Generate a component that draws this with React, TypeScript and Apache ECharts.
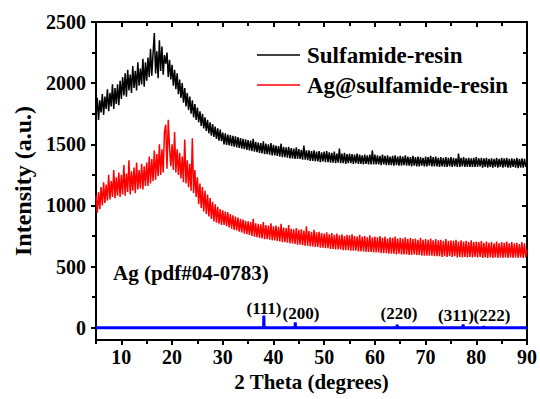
import React, { useEffect, useRef } from "react";
import * as echarts from "echarts";

// 2-theta sampling grid: 5.00 .. 90.00 in 0.25 degree steps
const thetaStart = 5;
const thetaStep = 0.25;

const sulfamideResin: number[] = [
  1730, 1880, 1700, 1860, 1760, 1910, 1740, 1890, 1790, 1950, 1770, 1920, 1810, 1990, 1790, 1960, 1830, 1990, 1820, 2020,
  1870, 2050, 1900, 2080, 1890, 2110, 1940, 2070, 1920, 2140, 1960, 2100, 1940, 2170, 1980, 2120, 1990, 2200, 1970, 2170,
  2020, 2210, 2050, 2280, 2060, 2240, 2410, 2080, 2260, 2040, 2350, 2100, 2300, 2070, 2230, 2160, 2250, 2050, 2190, 2030,
  2150, 1980, 2110, 1950, 2080, 1910, 2030, 1880, 2000, 1840, 1960, 1810, 1920, 1780, 1890, 1750, 1860, 1720, 1830, 1700,
  1800, 1680, 1770, 1650, 1750, 1630, 1720, 1610, 1700, 1590, 1680, 1570, 1665, 1560, 1645, 1545, 1630, 1530, 1620, 1525,
  1595, 1500, 1590, 1495, 1580, 1490, 1575, 1485, 1570, 1480, 1565, 1475, 1560, 1470, 1550, 1465, 1545, 1460, 1540, 1455,
  1535, 1450, 1530, 1445, 1545, 1440, 1520, 1435, 1515, 1430, 1510, 1425, 1525, 1420, 1505, 1420, 1500, 1415, 1510, 1410,
  1495, 1410, 1490, 1405, 1485, 1400, 1505, 1395, 1480, 1395, 1475, 1390, 1480, 1385, 1470, 1385, 1465, 1380, 1475, 1380,
  1460, 1380, 1455, 1375, 1490, 1375, 1450, 1370, 1450, 1365, 1445, 1365, 1450, 1360, 1440, 1360, 1445, 1355, 1435, 1360,
  1440, 1355, 1445, 1355, 1435, 1350, 1430, 1350, 1440, 1345, 1425, 1350, 1465, 1345, 1425, 1345, 1430, 1340, 1420, 1345,
  1425, 1345, 1420, 1340, 1415, 1345, 1425, 1340, 1415, 1340, 1410, 1335, 1415, 1340, 1410, 1335, 1415, 1335, 1450, 1335,
  1415, 1335, 1410, 1335, 1405, 1330, 1415, 1335, 1405, 1330, 1410, 1330, 1400, 1330, 1405, 1325, 1410, 1330, 1400, 1325,
  1405, 1325, 1400, 1330, 1410, 1325, 1400, 1325, 1395, 1320, 1405, 1325, 1395, 1320, 1400, 1320, 1395, 1325, 1390, 1320,
  1400, 1320, 1395, 1325, 1405, 1320, 1395, 1320, 1400, 1320, 1390, 1315, 1395, 1320, 1390, 1315, 1395, 1315, 1390, 1320,
  1395, 1315, 1390, 1320, 1385, 1315, 1425, 1315, 1390, 1320, 1395, 1315, 1385, 1315, 1390, 1315, 1385, 1315, 1390, 1315,
  1395, 1315, 1385, 1320, 1390, 1310, 1385, 1315, 1390, 1310, 1380, 1315, 1385, 1310, 1380, 1315, 1390, 1310, 1380, 1315,
  1390, 1310, 1385, 1315, 1390, 1310, 1380, 1310, 1385, 1315, 1380, 1310, 1390, 1305, 1380, 1310, 1385, 1310, 1380, 1315,
  1350,
];

const agSulfamideResin: number[] = [
  1080, 940, 1110, 970, 1150, 1000, 1190, 1020, 1170, 1040, 1250, 1050, 1200, 1070, 1290, 1060, 1230, 1080, 1270, 1070,
  1250, 1090, 1330, 1080, 1260, 1110, 1370, 1090, 1280, 1120, 1310, 1100, 1350, 1130, 1290, 1140, 1340, 1130, 1320, 1160,
  1350, 1160, 1400, 1180, 1380, 1200, 1450, 1210, 1420, 1240, 1500, 1250, 1460, 1270, 1600, 1660, 1300, 1700, 1470, 1320,
  1500, 1290, 1600, 1270, 1460, 1250, 1430, 1220, 1400, 1190, 1540, 1180, 1370, 1150, 1340, 1120, 1550, 1100, 1290, 1070,
  1230, 1010, 1180, 980, 1150, 950, 1120, 930, 1090, 910, 1060, 890, 1030, 870, 1010, 860, 990, 850, 970, 840,
  960, 840, 950, 830, 945, 820, 930, 810, 920, 800, 910, 795, 900, 785, 890, 780, 885, 770, 875, 765,
  870, 760, 865, 750, 890, 745, 855, 740, 850, 735, 845, 730, 865, 725, 840, 725, 835, 720, 855, 715,
  830, 715, 835, 710, 825, 705, 850, 700, 820, 700, 815, 695, 840, 690, 810, 690, 805, 685, 815, 680,
  800, 680, 805, 675, 795, 670, 830, 670, 790, 665, 785, 665, 800, 660, 780, 660, 785, 655, 775, 655,
  770, 650, 780, 650, 765, 645, 775, 645, 760, 640, 770, 640, 755, 640, 765, 635, 750, 635, 760, 635,
  755, 630, 765, 630, 750, 630, 745, 625, 760, 625, 745, 625, 750, 620, 740, 620, 755, 620, 740, 615,
  745, 615, 740, 615, 750, 610, 735, 610, 745, 610, 730, 605, 740, 605, 735, 605, 745, 600, 730, 605,
  735, 600, 730, 600, 740, 600, 725, 595, 735, 595, 725, 600, 730, 595, 720, 595, 735, 590, 720, 590,
  725, 590, 720, 590, 730, 590, 715, 585, 725, 585, 715, 585, 720, 580, 710, 585, 725, 580, 710, 585,
  715, 580, 710, 585, 720, 575, 705, 580, 715, 575, 705, 580, 710, 575, 700, 580, 715, 575, 700, 580,
  705, 575, 700, 580, 710, 570, 695, 575, 705, 570, 695, 575, 700, 570, 690, 575, 705, 570, 690, 575,
  700, 570, 695, 575, 705, 570, 690, 575, 700, 570, 690, 575, 695, 570, 685, 575, 700, 570, 690, 575,
  640,
];

// Ag reference pattern (pdf#04-0783)
const agPeakTheta = [38.1, 44.3, 64.4, 77.4, 81.5];
const agPeakIntensity = [100, 45, 25, 28, 14];
const agPeakLabels = ["(111)", "(200)", "(220)", "(311)", "(222)"];

const xMajorTicks = [10, 20, 30, 40, 50, 60, 70, 80, 90];
const xMinorTicks = [5, 15, 25, 35, 45, 55, 65, 75, 85];
const yMajorTicks = [0, 500, 1000, 1500, 2000, 2500];
const yMinorTicks = [250, 750, 1250, 1750, 2250];

const seriesNames = ["Sulfamide-resin", "Ag@sulfamide-resin"];

const AXIS_FONT = "Times New Roman";
const GFX_FONT = "Liberation Serif";

function toPairs(vals: number[]): number[][] {
  return vals.map((v, i) => [thetaStart + i * thetaStep, v]);
}

function buildAgStick(): number[][] {
  const pts: number[][] = [[5, 0]];
  agPeakTheta.forEach((t, i) => {
    pts.push([t - 0.05, 0], [t, agPeakIntensity[i]], [t + 0.05, 0]);
  });
  pts.push([90, 0]);
  return pts;
}

export default function App() {
  const ref = useRef<HTMLDivElement>(null);
  useEffect(() => {
    if (!ref.current) return;
    const chart = echarts.init(ref.current, undefined, { renderer: "svg" });
    const lineStyleAxis = { color: "#000", width: 2 };
    const baseX = { type: "value", min: 5, max: 90, gridIndex: 0, splitLine: { show: false } };
    const baseY = { type: "value", min: -100, max: 2500, gridIndex: 0, splitLine: { show: false } };
    const tickStyle = { width: 2, color: "#000" };
    const peakLabelPos: [number, number][] = [
      [264, 308],
      [301, 313],
      [399, 313],
      [456, 315],
      [492, 315],
    ];
    const txt = (size: number) => ({ fill: "#000", fontFamily: GFX_FONT, fontWeight: 700, fontSize: size });
    chart.setOption({
      animation: false,
      grid: { left: 96, right: 13, top: 22, height: 318 },
      xAxis: [
        {
          ...baseX,
          position: "bottom",
          axisLine: { show: true, onZero: false, lineStyle: lineStyleAxis },
          axisTick: { show: true, inside: false, length: 5, customValues: xMajorTicks, lineStyle: tickStyle },
          axisLabel: {
            customValues: xMajorTicks,
            margin: 7,
            color: "#000",
            fontFamily: AXIS_FONT,
            fontWeight: "bold",
            fontSize: 20,
          },
          name: "2 Theta (degrees)",
          nameLocation: "middle",
          nameGap: 30,
          nameTextStyle: { color: "#000", fontFamily: AXIS_FONT, fontWeight: "bold", fontSize: 21 },
        },
        {
          ...baseX,
          position: "bottom",
          axisLine: { show: false, onZero: false },
          axisTick: { show: true, inside: false, length: 4, customValues: xMinorTicks, lineStyle: tickStyle },
          axisLabel: { show: false },
        },
        {
          ...baseX,
          position: "top",
          axisLine: { show: true, onZero: false, lineStyle: lineStyleAxis },
          axisTick: { show: true, inside: true, length: 5, customValues: xMajorTicks, lineStyle: tickStyle },
          axisLabel: { show: false },
        },
        {
          ...baseX,
          position: "top",
          axisLine: { show: false, onZero: false },
          axisTick: { show: true, inside: true, length: 4, customValues: xMinorTicks, lineStyle: tickStyle },
          axisLabel: { show: false },
        },
      ],
      yAxis: [
        {
          ...baseY,
          position: "left",
          axisLine: { show: true, onZero: false, lineStyle: lineStyleAxis },
          axisTick: { show: true, inside: false, length: 5, customValues: yMajorTicks, lineStyle: tickStyle },
          axisLabel: {
            customValues: yMajorTicks,
            margin: 10,
            color: "#000",
            fontFamily: AXIS_FONT,
            fontWeight: "bold",
            fontSize: 20,
            formatter: (v: number) => String(v),
          },
          name: "Intensity (a.u.)",
          nameLocation: "middle",
          nameGap: 61,
          nameTextStyle: { color: "#000", fontFamily: AXIS_FONT, fontWeight: "bold", fontSize: 24 },
        },
        {
          ...baseY,
          position: "left",
          axisLine: { show: false, onZero: false },
          axisTick: { show: true, inside: false, length: 4, customValues: yMinorTicks, lineStyle: tickStyle },
          axisLabel: { show: false },
        },
        {
          ...baseY,
          position: "right",
          axisLine: { show: true, onZero: false, lineStyle: lineStyleAxis },
          axisTick: { show: true, inside: true, length: 5, customValues: yMajorTicks, lineStyle: tickStyle },
          axisLabel: { show: false },
        },
        {
          ...baseY,
          position: "right",
          axisLine: { show: false, onZero: false },
          axisTick: { show: true, inside: true, length: 4, customValues: yMinorTicks, lineStyle: tickStyle },
          axisLabel: { show: false },
        },
      ],
      series: [
        {
          name: seriesNames[0],
          type: "line",
          xAxisIndex: 0,
          yAxisIndex: 0,
          data: toPairs(sulfamideResin),
          showSymbol: false,
          symbol: "none",
          lineStyle: { color: "#000", width: 1.5 },
          z: 3,
        },
        {
          name: seriesNames[1],
          type: "line",
          xAxisIndex: 0,
          yAxisIndex: 0,
          data: toPairs(agSulfamideResin),
          showSymbol: false,
          symbol: "none",
          lineStyle: { color: "#ff0000", width: 1.5 },
          z: 3,
        },
        {
          name: "Ag (pdf#04-0783)",
          type: "line",
          xAxisIndex: 0,
          yAxisIndex: 0,
          data: buildAgStick(),
          showSymbol: false,
          symbol: "none",
          lineStyle: { color: "#0000ff", width: 3 },
          z: 4,
        },
      ],
      graphic: [
        { type: "line", shape: { x1: 257, y1: 55, x2: 300, y2: 55 }, style: { stroke: "#000", lineWidth: 1.5 } },
        {
          type: "text",
          x: 307,
          y: 55,
          style: { text: seriesNames[0], ...txt(23), verticalAlign: "middle" },
        },
        { type: "line", shape: { x1: 257, y1: 85, x2: 300, y2: 85 }, style: { stroke: "#ff0000", lineWidth: 1.5 } },
        {
          type: "text",
          x: 307,
          y: 85,
          style: { text: seriesNames[1], ...txt(23), verticalAlign: "middle" },
        },
        {
          type: "text",
          x: 113,
          y: 273,
          style: { text: "Ag (pdf#04-0783)", ...txt(21), verticalAlign: "middle" },
        },
        ...agPeakLabels.map((lab, i) => ({
          type: "text",
          x: peakLabelPos[i][0],
          y: peakLabelPos[i][1],
          style: { text: lab, ...txt(17), align: "center", verticalAlign: "middle" },
        })),
      ],
    });
    return () => chart.dispose();
  }, []);
  return <div ref={ref} style={{ position: "absolute", left: 0, top: 0, width: 540, height: 399 }} />;
}
